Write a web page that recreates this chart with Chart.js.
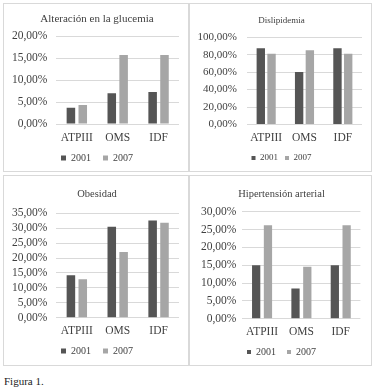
<!DOCTYPE html>
<html>
<head>
<meta charset="utf-8">
<script src="https://cdn.jsdelivr.net/npm/chart.js@4"></script>
<style>
  html, body { margin: 0; padding: 0; background: #ffffff; }
  body { width: 375px; height: 391px; position: relative; overflow: hidden; }
  .panel { position: absolute; box-sizing: border-box; border: 1px solid #d9d9d9; background: #fff; }
  canvas { position: absolute; left: 0; top: 0; }
  #caption { position: absolute; left: 4px; top: 375px; font: 11px 'Liberation Serif', 'Times New Roman', serif; color: #222; }
</style>
</head>
<body>
<div class="panel" style="left:3px;top:3px;width:186px;height:169px;"><canvas id="c1" width="186" height="169"></canvas></div>
<div class="panel" style="left:189px;top:3px;width:183px;height:169px;"><canvas id="c2" width="183" height="169"></canvas></div>
<div class="panel" style="left:3px;top:175px;width:186px;height:191px;"><canvas id="c3" width="186" height="191"></canvas></div>
<div class="panel" style="left:189px;top:175px;width:183px;height:191px;"><canvas id="c4" width="183" height="191"></canvas></div>
<div id="caption">Figura 1.</div>
<script>
// ---- data ----
const categories = ['ATPIII', 'OMS', 'IDF'];
const seriesNames = ['2001', '2007'];

const glucemia2001 = [3.7, 7.0, 7.3];
const glucemia2007 = [4.3, 15.7, 15.7];

const dislipidemia2001 = [87.5, 60.2, 87.5];
const dislipidemia2007 = [81.3, 85.2, 81.3];

const obesidad2001 = [14.2, 30.5, 32.6];
const obesidad2007 = [12.9, 22.0, 31.8];

const hipertension2001 = [15.0, 8.5, 15.0];
const hipertension2007 = [26.2, 14.6, 26.2];

const titles = ['Alteración en la glucemia', 'Dislipidemia', 'Obesidad', 'Hipertensión arterial'];
const yMax = [20, 100, 35, 30];
const yStep = [5, 20, 5, 5];

// ---- styling ----
const FONT = "'Liberation Serif', 'Times New Roman', serif";
const TEXT = '#3f3f3f';
const DARK = '#555555';
const LIGHT = '#a6a6a6';
const GRID = '#d9d9d9';

function pct(v) { return v.toFixed(2).replace('.', ',') + '%'; }

function makeChart(id, idx, d1, d2, L) {
  return new Chart(document.getElementById(id), {
    type: 'bar',
    data: {
      labels: categories,
      datasets: [
        { label: seriesNames[0], data: d1, backgroundColor: DARK, categoryPercentage: L.cat, barPercentage: L.bar },
        { label: seriesNames[1], data: d2, backgroundColor: LIGHT, categoryPercentage: L.cat, barPercentage: L.bar }
      ]
    },
    options: {
      responsive: false,
      animation: false,
      devicePixelRatio: 1,
      layout: { padding: { left: 0, right: 0, top: 0, bottom: L.padB } },
      plugins: {
        title: {
          display: true, text: titles[idx], color: TEXT,
          font: { family: FONT, size: L.titleSize, weight: 'normal' },
          padding: { top: L.titleTop, bottom: L.titleBottom }
        },
        legend: {
          display: true, position: 'bottom',
          labels: {
            color: TEXT, font: { family: FONT, size: L.legSize },
            boxWidth: L.box, boxHeight: L.box, padding: L.legPad
          }
        },
        tooltip: { enabled: false }
      },
      scales: {
        x: {
          grid: { display: false, drawTicks: false },
          border: { display: false },
          ticks: { color: TEXT, font: { family: FONT, size: 11.5 }, padding: L.xPad, maxRotation: 0, autoSkip: false },
          afterFit: (s) => { s.width = s.width; s.height = L.xH; }
        },
        y: {
          min: 0, max: yMax[idx],
          grid: { color: GRID, lineWidth: 1, drawTicks: false },
          border: { display: false },
          ticks: { stepSize: yStep[idx], autoSkip: false, color: TEXT, font: { family: FONT, size: L.ySize }, padding: L.yPad, callback: (v) => pct(v) },
          afterFit: (s) => { s.width = L.yW; }
        },
        spacer: {
          type: 'linear', position: 'right', display: true,
          grid: { display: false, drawTicks: false },
          border: { display: false },
          ticks: { display: false },
          afterFit: (s) => { s.width = L.rW; }
        }
      }
    }
  });
}

makeChart('c1', 0, glucemia2001, glucemia2007,
  { cat: 0.58, bar: 0.72, padB: 0, titleSize: 11, titleTop: 8.4, titleBottom: 10.4,
    legSize: 10, box: 5, legPad: 12, xPad: 7, xH: 17, ySize: 11.5, yPad: 9, yW: 52.4, rW: 11 });

makeChart('c2', 1, dislipidemia2001, dislipidemia2007,
  { cat: 0.56, bar: 0.78, padB: 0.5, titleSize: 9, titleTop: 11.6, titleBottom: 11,
    legSize: 9, box: 4, legPad: 7, xPad: 6.7, xH: 22.1, ySize: 11, yPad: 10, yW: 57, rW: 11 });

makeChart('c3', 2, obesidad2001, obesidad2007,
  { cat: 0.58, bar: 0.72, padB: 1, titleSize: 10.5, titleTop: 11.7, titleBottom: 13,
    legSize: 10, box: 5, legPad: 12, xPad: 6.4, xH: 16.3, ySize: 11.5, yPad: 9, yW: 52.4, rW: 11 });

makeChart('c4', 3, hipertension2001, hipertension2007,
  { cat: 0.6, bar: 0.7, padB: 0, titleSize: 10.5, titleTop: 11.7, titleBottom: 11.4,
    legSize: 10, box: 4, legPad: 11, xPad: 6.4, xH: 17.3, ySize: 11.5, yPad: 6, yW: 52.4, rW: 12.6 });
</script>
</body>
</html>
